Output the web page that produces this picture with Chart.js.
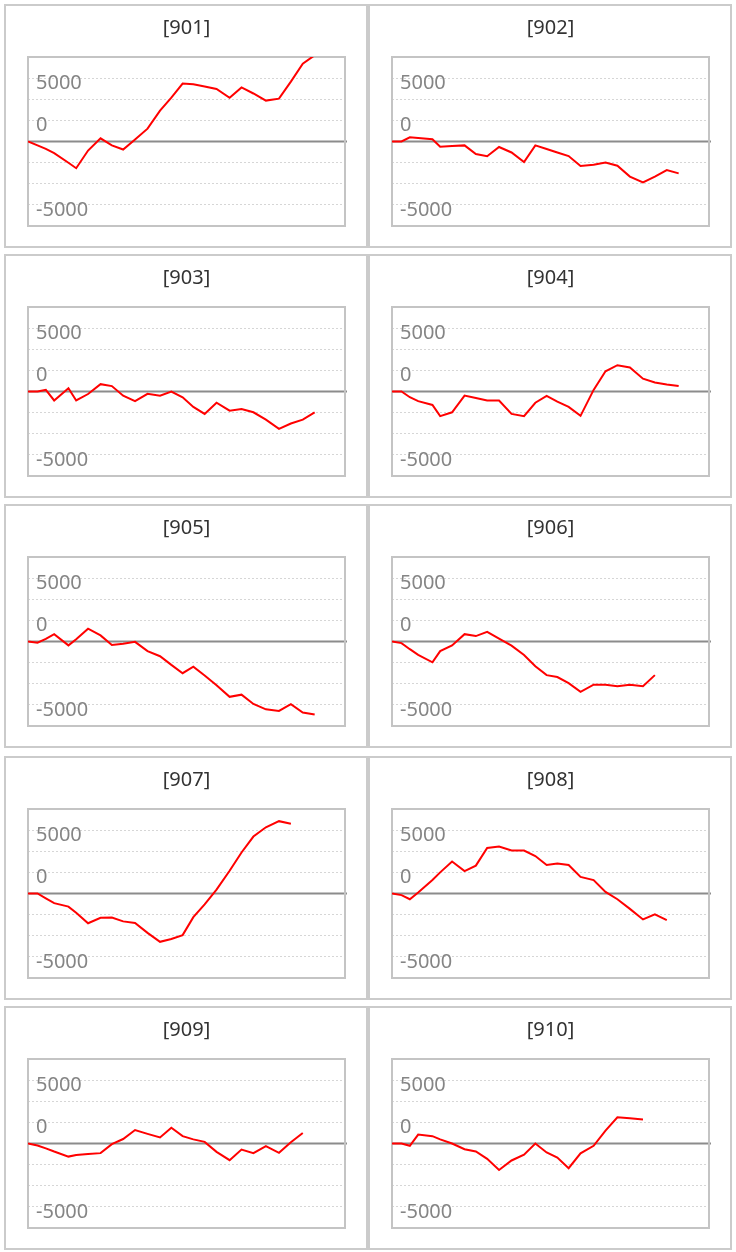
<!DOCTYPE html>
<html>
<head>
<meta charset="utf-8">
<title>Small multiples</title>
<script src="https://cdn.jsdelivr.net/npm/chart.js"></script>
<style>
  body { margin: 0; background: #fff; }
  #grid { position: relative; width: 736px; height: 1252px; }
  .panel {
    position: absolute;
    width: 364px;
    height: 244px;
    box-sizing: border-box;
    border: 2px solid #cbcbcb;
    background: #fff;
  }
  canvas { display: block; }
</style>
</head>
<body>
<div id="grid"></div>
<script>
// x positions of the observations (shared by every panel)
const periods = [0, 0.8, 1.5, 2.2, 3.4, 4.05, 5.05, 6.1, 7.05, 8, 9, 10.05, 11.1, 12.05,
  13, 13.9, 14.85, 15.85, 16.95, 17.95, 18.95, 20, 21.1, 22.1, 23.1, 24.1];

const titles = ['[901]', '[902]', '[903]', '[904]', '[905]', '[906]', '[907]', '[908]', '[909]', '[910]'];

// series values
const s901 = [0, -460, -880, -1370, -2520, -3160, -1070, 380, -460, -950, 230, 1520, 3660, 5180,
  6860, 6780, 6520, 6210, 5180, 6400, 5680, 4840, 5070, 7090, 9220, 10200];
const s902 = [0, 0, 500, 420, 270, -610, -530, -460, -1490, -1750, -650, -1300, -2440, -460,
  -880, -1300, -1720, -2900, -2740, -2480, -2860, -4150, -4840, -4150, -3390, -3770];
const s903 = [0, 0, 190, -1060, 380, -1060, -300, 870, 640, -490, -1140, -270, -490, 0,
  -680, -1820, -2650, -1330, -2270, -2080, -2460, -3330, -4430, -3790, -3330, -2460];
const s904 = [0, 0, -680, -1140, -1590, -2920, -2460, -490, -760, -1060, -1060, -2650, -2920, -1330,
  -530, -1210, -1820, -2880, 190, 2390, 3110, 2840, 1520, 1060, 830, 640];
const s905 = [0, -150, 300, 870, -460, 270, 1520, 720, -420, -270, -40, -1140, -1740, -2770,
  -3750, -2990, -4020, -5190, -6550, -6290, -7390, -8030, -8220, -7420, -8410, -8640];
const s906 = [0, -190, -910, -1590, -2460, -1140, -460, 870, 640, 1140, 340, -490, -1590, -2920,
  -3980, -4210, -4920, -5950, -5110, -5110, -5300, -5110, -5300, -3980];
const s907 = [0, 0, -570, -1140, -1550, -2270, -3520, -2880, -2840, -3300, -3490, -4660, -5720, -5380,
  -4920, -2800, -1290, 460, 2690, 4850, 6740, 7840, 8560, 8260];
const s908 = [0, -190, -680, 110, 1590, 2500, 3790, 2650, 3300, 5380, 5570, 5080, 5080, 4430,
  3370, 3560, 3370, 1970, 1590, 190, -680, -1820, -3070, -2460, -3140];
const s909 = [0, -230, -570, -950, -1550, -1360, -1250, -1140, -80, 530, 1590, 1140, 720, 1860,
  870, 490, 190, -990, -1970, -720, -1140, -300, -1100, 150, 1250];
const s910 = [0, 0, -270, 1060, 870, 490, 0, -680, -950, -1820, -3140, -2010, -1330, 0,
  -1060, -1670, -2920, -1170, -270, 1520, 3110, 2990, 2840];

const allSeries = [s901, s902, s903, s904, s905, s906, s907, s908, s909, s910];

// y axis labels as they appear on the chart
const tickValues = [7500, 2500, -7500];
const tickLabels = ['5000', '0', '-5000'];

const panelLefts = [4, 368];
const panelTops = [4, 254, 504, 756, 1006];

// plot frame + dark zero line
const framePlugin = {
  id: 'frame',
  beforeDatasetsDraw(chart) {
    const { ctx, chartArea: a, scales } = chart;
    const y0 = scales.y.getPixelForValue(0);
    ctx.save();
    ctx.strokeStyle = '#8c8c8c';
    ctx.lineWidth = 2;
    ctx.beginPath();
    ctx.moveTo(a.left, y0);
    ctx.lineTo(a.right + 2, y0);
    ctx.stroke();
    ctx.strokeStyle = '#c4c4c4';
    ctx.strokeRect(a.left, a.top, a.right - a.left, a.bottom - a.top);
    ctx.restore();
  }
};

const grid = document.getElementById('grid');

titles.forEach((title, i) => {
  const panel = document.createElement('div');
  panel.className = 'panel';
  panel.style.left = panelLefts[i % 2] + 'px';
  panel.style.top = panelTops[Math.floor(i / 2)] + 'px';
  const canvas = document.createElement('canvas');
  canvas.width = 360;
  canvas.height = 240;
  panel.appendChild(canvas);
  grid.appendChild(panel);

  const values = allSeries[i];
  new Chart(canvas.getContext('2d'), {
    type: 'line',
    data: {
      datasets: [{
        data: values.map((v, k) => ({ x: periods[k], y: v })),
        borderColor: '#ff0000',
        borderWidth: 2,
        pointRadius: 0,
        tension: 0,
        fill: false
      }]
    },
    options: {
      responsive: false,
      animation: false,
      layout: { padding: { left: 22, right: 21, top: 0, bottom: 13 } },
      plugins: {
        legend: { display: false },
        tooltip: { enabled: false },
        title: {
          display: true,
          text: title,
          color: '#333',
          font: { family: 'Noto Sans', size: 20, weight: 'normal' },
          padding: { top: 10, bottom: 17 }
        }
      },
      scales: {
        x: { type: 'linear', display: false, min: 0, max: 26.65 },
        y: {
          min: -10000,
          max: 10000,
          afterFit: s => { s.width = 0; },
          border: { display: false, dash: [2, 2] },
          grid: {
            drawTicks: false,
            lineWidth: 1,
            color: c => (c.tick && (c.tick.value === 0 || Math.abs(c.tick.value) === 10000)) ? 'rgba(0,0,0,0)' : '#d6d6d6'
          },
          ticks: {
            stepSize: 2500,
            autoSkip: false,
            maxTicksLimit: 20,
            mirror: true,
            padding: 8,
            labelOffset: 5,
            color: '#858585',
            font: { family: 'Noto Sans', size: 20 },
            callback: v => {
              const idx = tickValues.indexOf(v);
              return idx >= 0 ? tickLabels[idx] : '';
            }
          }
        }
      }
    },
    plugins: [framePlugin]
  });
});
</script>
</body>
</html>
